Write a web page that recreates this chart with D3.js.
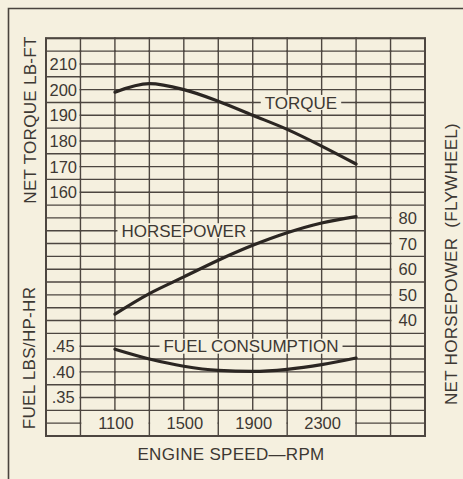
<!DOCTYPE html>
<html>
<head>
<meta charset="utf-8">
<script src="https://cdn.jsdelivr.net/npm/d3@7/dist/d3.min.js"></script>
<style>
  body { margin: 0; background: #f5f0df; }
  text { font-family: "Liberation Sans", Arial, sans-serif; fill: #3d3833; }
</style>
</head>
<body>
<div id="chart"></div>
<script>
// engine curves
var rpm = [1100, 1300, 1500, 1700, 1900, 2100, 2300, 2500];
var torque = [199, 202.3, 200, 195.5, 190, 184.5, 178, 171];
var horsepower = [42.5, 50.5, 57, 63.5, 69.3, 74.2, 78, 80.5];
var fuel = [0.444, 0.425, 0.411, 0.403, 0.401, 0.405, 0.414, 0.427];

// tick labels
var rpmTicks = [1100, 1500, 1900, 2300];
var torqueTicks = [210, 200, 190, 180, 170, 160];
var hpTicks = [80, 70, 60, 50, 40];
var fuelTicks = [0.45, 0.40, 0.35];

// curve labels: [text, rpm, value, which axis]
var curveLabels = [
  ["TORQUE", 2180, 195, "torque"],
  ["HORSEPOWER", 1500, 75, "hp"],
  ["FUEL CONSUMPTION", 1890, 0.45, "fuel"]
];

var width = 463, height = 479;
var gridTop = 38.3, gridBottom = 436, gridLeft = 46, gridRight = 425;
var nRows = 31, nCols = 11;

var svg = d3.select("#chart").append("svg")
  .attr("width", width)
  .attr("height", height);

svg.append("rect")
  .attr("width", width).attr("height", height)
  .attr("fill", "#f5f0df");

// outer page frame (only top and left are visible)
svg.append("path")
  .attr("d", "M8.5," + height + "V8.5H" + width)
  .attr("fill", "none")
  .attr("stroke", "#4a443e")
  .attr("stroke-width", 1.6);

// scales
var x = d3.scaleLinear().domain([700, 2900]).range([gridLeft, gridRight]);
var yTorque = d3.scaleLinear().domain([220, 220 - 5 * nRows]).range([gridTop, gridBottom]);
var yHp = d3.scaleLinear().domain([150, 150 - 5 * nRows]).range([gridTop, gridBottom]);
var yFuel = d3.scaleLinear().domain([1.05, 1.05 - 0.025 * nRows]).range([gridTop, gridBottom]);

var rowH = (gridBottom - gridTop) / nRows;
function rowY(i) { return yTorque(220 - 5 * i); }
function colX(c) { return x(700 + 200 * c); }
function rowOf(y) { return Math.round((y - gridTop) / rowH); }

// cells which hold labels get no grid line through them
var torqueRows = torqueTicks.map(d => rowOf(yTorque(d)));
var fuelRows = fuelTicks.map(d => rowOf(yFuel(d)));
var hpRows = hpTicks.map(d => rowOf(yHp(d)));
var rpmCols = rpmTicks.map(d => Math.round((x(d) - gridLeft) / (x(900) - x(700))));
var labelRow = nRows - 1;

var hSegs = [];
for (var i = 0; i <= nRows; i++) {
  for (var c = 0; c < nCols; c++) {
    if (c == 0 && (torqueRows.includes(i) || fuelRows.includes(i))) continue;
    if (c == nCols - 1 && hpRows.includes(i)) continue;
    if (i == labelRow && c >= 1 && c <= 8) continue;
    hSegs.push([colX(c), rowY(i), colX(c + 1), rowY(i)]);
  }
}

var vSegs = [];
for (var j = 0; j <= nCols; j++) {
  for (var r = 0; r < nRows; r++) {
    if (rpmCols.includes(j) && r >= nRows - 2) continue;
    vSegs.push([colX(j), rowY(r), colX(j), rowY(r + 1)]);
  }
}

var grid = svg.append("g")
  .attr("stroke", "#4d4640")
  .attr("stroke-width", 1.4)
  .attr("stroke-linecap", "square");

grid.selectAll("line.h")
  .data(hSegs)
  .join("line")
  .attr("class", "h")
  .attr("x1", d => d[0]).attr("y1", d => d[1])
  .attr("x2", d => d[2]).attr("y2", d => d[3]);

grid.selectAll("line.v")
  .data(vSegs)
  .join("line")
  .attr("class", "v")
  .attr("x1", d => d[0]).attr("y1", d => d[1])
  .attr("x2", d => d[2]).attr("y2", d => d[3]);

// thicker outside border
svg.append("rect")
  .attr("x", gridLeft).attr("y", gridTop)
  .attr("width", gridRight - gridLeft).attr("height", gridBottom - gridTop)
  .attr("fill", "none")
  .attr("stroke", "#4d4640")
  .attr("stroke-width", 2);

// curves
var line = d3.line().curve(d3.curveMonotoneX);

function drawCurve(values, yScale) {
  svg.append("path")
    .datum(rpm.map((d, k) => [x(d), yScale(values[k])]))
    .attr("d", line)
    .attr("fill", "none")
    .attr("stroke", "#2b2622")
    .attr("stroke-width", 3.2)
    .attr("stroke-linecap", "round");
}
drawCurve(torque, yTorque);
drawCurve(horsepower, yHp);
drawCurve(fuel, yFuel);

// curve labels with a paper-coloured box behind them
var scaleFor = { torque: yTorque, hp: yHp, fuel: yFuel };
curveLabels.forEach(function (d) {
  var g = svg.append("g")
    .attr("transform", "translate(" + x(d[1]) + "," + scaleFor[d[3]](d[2]) + ")");
  var bg = g.append("rect").attr("fill", "#f5f0df");
  var t = g.append("text")
    .attr("text-anchor", "middle")
    .attr("dy", "0.36em")
    .style("font-size", "17px")
    .text(d[0]);
  var len = t.node().getComputedTextLength();
  bg.attr("x", -len / 2 - 4).attr("y", -7.5)
    .attr("width", len + 8).attr("height", 15);
});

// tick labels
var tickSize = "16.5px";
svg.append("g").selectAll("text")
  .data(torqueTicks)
  .join("text")
  .attr("x", (colX(0) + colX(1)) / 2)
  .attr("y", d => yTorque(d))
  .attr("dy", "0.36em")
  .attr("text-anchor", "middle")
  .style("font-size", tickSize)
  .text(d => d);

svg.append("g").selectAll("text")
  .data(fuelTicks)
  .join("text")
  .attr("x", (colX(0) + colX(1)) / 2)
  .attr("y", d => yFuel(d))
  .attr("dy", "0.36em")
  .attr("text-anchor", "middle")
  .style("font-size", tickSize)
  .text(d => d3.format(".2f")(d).replace(/^0/, ""));

svg.append("g").selectAll("text")
  .data(hpTicks)
  .join("text")
  .attr("x", (colX(nCols - 1) + colX(nCols)) / 2)
  .attr("y", d => yHp(d))
  .attr("dy", "0.36em")
  .attr("text-anchor", "middle")
  .style("font-size", tickSize)
  .text(d => d);

svg.append("g").selectAll("text")
  .data(rpmTicks)
  .join("text")
  .attr("x", d => x(d) + 1)
  .attr("y", (rowY(nRows - 2) + rowY(nRows)) / 2)
  .attr("dy", "0.36em")
  .attr("text-anchor", "middle")
  .style("font-size", tickSize)
  .text(d => d);

// axis titles
function vTitle(txt, cx, cy) {
  svg.append("text")
    .attr("transform", "translate(" + cx + "," + cy + ") rotate(-90)")
    .attr("text-anchor", "middle")
    .attr("dy", "0.36em")
    .style("font-size", "17px")
    .style("letter-spacing", "0.3px")
    .style("white-space", "pre")
    .text(txt);
}
vTitle("NET TORQUE LB-FT", 30, 120);
vTitle("FUEL LBS/HP-HR", 29, 358);
vTitle("NET HORSEPOWER  (FLYWHEEL)", 451, 264);

svg.append("text")
  .attr("x", 231)
  .attr("y", 454)
  .attr("dy", "0.36em")
  .attr("text-anchor", "middle")
  .style("font-size", "17px")
  .style("letter-spacing", "0.3px")
  .text("ENGINE SPEED\u2014RPM");
</script>
</body>
</html>
